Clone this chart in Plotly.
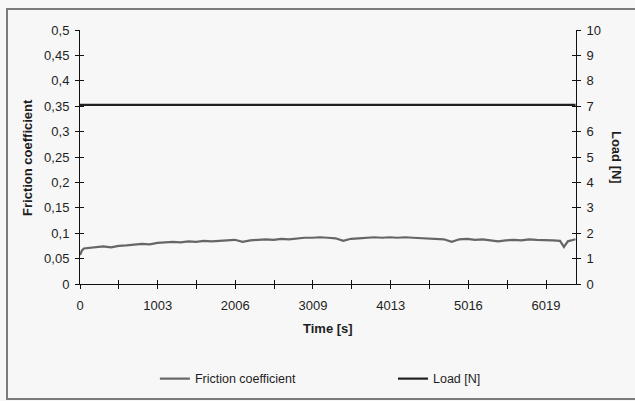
import plotly.graph_objects as go

# ---- data ----
time_s = [0, 25, 50, 100, 200, 300, 400, 500, 600, 700, 800, 900, 1000, 1100, 1200,
          1300, 1400, 1500, 1600, 1700, 1800, 1900, 2000, 2100, 2200, 2300, 2400, 2500,
          2600, 2700, 2800, 2900, 3000, 3100, 3200, 3300, 3400, 3500, 3600, 3700, 3800,
          3900, 4000, 4100, 4200, 4300, 4400, 4500, 4600, 4700, 4800, 4900, 5000, 5100,
          5200, 5300, 5400, 5500, 5600, 5700, 5800, 5900, 6000, 6100, 6200, 6250, 6300,
          6350, 6400]
friction = [0.057, 0.066, 0.070, 0.071, 0.073, 0.074, 0.072, 0.075, 0.076, 0.077, 0.079,
            0.078, 0.081, 0.082, 0.083, 0.082, 0.084, 0.083, 0.085, 0.084, 0.085, 0.086,
            0.087, 0.083, 0.086, 0.087, 0.088, 0.087, 0.089, 0.088, 0.090, 0.091, 0.091,
            0.092, 0.091, 0.090, 0.085, 0.089, 0.090, 0.091, 0.092, 0.091, 0.092, 0.091,
            0.092, 0.091, 0.090, 0.090, 0.089, 0.088, 0.083, 0.088, 0.089, 0.087, 0.088,
            0.086, 0.084, 0.086, 0.087, 0.086, 0.088, 0.087, 0.087, 0.086, 0.085, 0.073,
            0.084, 0.086, 0.088]
load_time = [0, 6400]
load_n = [7.05, 7.05]

x_tickvals = [0, 501.5, 1003, 1504.5, 2006, 2507.5, 3009, 3511, 4013, 4514.5, 5016,
              5517.5, 6019]
x_ticktext = ["0", "", "1003", "", "2006", "", "3009", "", "4013", "", "5016", "", "6019"]
y_tickvals = [0, 0.05, 0.1, 0.15, 0.2, 0.25, 0.3, 0.35, 0.4, 0.45, 0.5]
y_ticktext = ["0", "0,05", "0,1", "0,15", "0,2", "0,25", "0,3", "0,35", "0,4", "0,45", "0,5"]
y2_tickvals = [0, 1, 2, 3, 4, 5, 6, 7, 8, 9, 10]

FONT = "Liberation Sans, Arial, sans-serif"
BG = "#f7f7f7"
TXT = "#1e1e1e"

fig = go.Figure()
fig.add_trace(go.Scatter(x=time_s, y=friction, mode="lines", name="Friction coefficient",
                         line=dict(color="#666666", width=2.2), legend="legend"))
fig.add_trace(go.Scatter(x=load_time, y=load_n, mode="lines", name="Load [N]",
                         yaxis="y2", line=dict(color="#202020", width=2.2), legend="legend2"))
# dummy traces for inward tick marks (cross ticks)
fig.add_trace(go.Scatter(x=[None], y=[None], xaxis="x2", yaxis="y3", showlegend=False,
                         hoverinfo="skip"))
fig.add_trace(go.Scatter(x=[None], y=[None], xaxis="x2", yaxis="y4", showlegend=False,
                         hoverinfo="skip"))

XR = [0, 6406]
common_tick = dict(tickcolor="#111", tickwidth=1, ticklen=4)
tickfont = dict(family=FONT, size=13, color=TXT)
legfont = dict(family=FONT, size=12.5, color=TXT)

fig.update_layout(
    width=635, height=401,
    margin=dict(l=80, r=59, t=30, b=117, autoexpand=False),
    paper_bgcolor=BG, plot_bgcolor=BG,
    font=dict(family=FONT, size=13, color=TXT),
    showlegend=True,
    xaxis=dict(range=XR, showgrid=False, zeroline=False, showline=True,
               linecolor="#111", linewidth=1, ticks="outside", tickvals=x_tickvals,
               ticktext=x_ticktext, ticklabelstandoff=5, tickfont=tickfont, **common_tick),
    xaxis2=dict(range=XR, overlaying="x", anchor="y", side="bottom", showgrid=False,
                zeroline=False, showline=False, ticks="inside", tickvals=x_tickvals,
                showticklabels=False, **common_tick),
    yaxis=dict(range=[0, 0.5], showgrid=False, zeroline=False, showline=True,
               linecolor="#111", linewidth=1, ticks="outside", tickvals=y_tickvals,
               ticktext=y_ticktext, ticklabelstandoff=3, tickfont=tickfont, **common_tick),
    yaxis2=dict(range=[0, 10], overlaying="y", side="right", anchor="x", showgrid=False,
                zeroline=False, showline=True, linecolor="#111", linewidth=1,
                ticks="outside", tickvals=y2_tickvals, ticklabelstandoff=3,
                tickfont=tickfont, **common_tick),
    yaxis3=dict(range=[0, 0.5], overlaying="y", side="left", anchor="x", showgrid=False,
                zeroline=False, showline=False, ticks="inside", tickvals=y_tickvals,
                showticklabels=False, **common_tick),
    yaxis4=dict(range=[0, 10], overlaying="y", side="right", anchor="x", showgrid=False,
                zeroline=False, showline=False, ticks="inside", tickvals=y2_tickvals,
                showticklabels=False, **common_tick),
    legend=dict(orientation="h", x=0.151, xanchor="left", y=-0.374, yanchor="middle",
                bgcolor="rgba(0,0,0,0)", font=legfont),
    legend2=dict(orientation="h", x=0.631, xanchor="left", y=-0.374, yanchor="middle",
                 bgcolor="rgba(0,0,0,0)", font=legfont),
    annotations=[
        dict(text="<b>Friction coefficient</b>", xref="paper", yref="paper",
             x=-0.107, y=0.5, xanchor="center", yanchor="middle", textangle=-90,
             showarrow=False, font=dict(family=FONT, size=13, color=TXT)),
        dict(text="<b>Load [N]</b>", xref="paper", yref="paper",
             x=1.0827, y=0.5, xanchor="center", yanchor="middle", textangle=90,
             showarrow=False, font=dict(family=FONT, size=13, color=TXT)),
        dict(text="<b>Time [s]</b>", xref="paper", yref="paper",
             x=0.5, y=-0.177, xanchor="center", yanchor="middle",
             showarrow=False, font=dict(family=FONT, size=13, color=TXT)),
    ],
    shapes=[
        dict(type="rect", xref="paper", yref="paper",
             x0=(7 - 80) / 496, x1=(645 - 80) / 496,
             y0=(284 - 399) / 254, y1=(284 - 9) / 254,
             line=dict(color="#7a7a7a", width=2), fillcolor="rgba(0,0,0,0)", layer="below"),
    ],
)

fig.write_html("out.html")
